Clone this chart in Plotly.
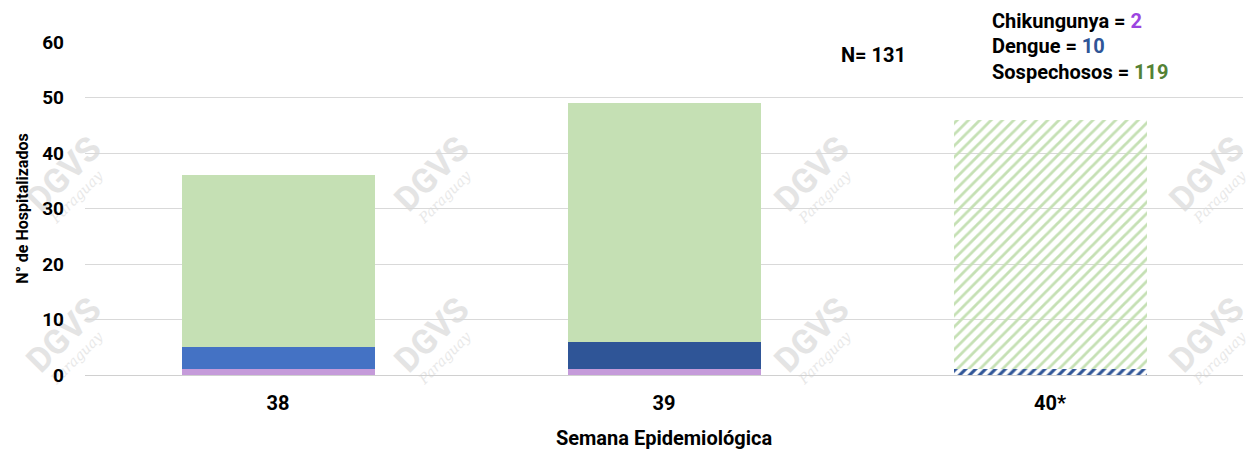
import plotly.graph_objects as go

semanas = ["38", "39", "40*"]
chikungunya = [1, 1, 0]
dengue = [4, 5, 1]
sospechosos = [31, 43, 45]
total_chik = 2
total_dengue = 10
total_sosp = 119
n_total = 131

FONT = "Roboto"
# page body adds an 8px offset; compensate in margins
L, T, PW, PH = 77, 34, 1158, 333
W, H = 1256, 462

fig = go.Figure()
fig.add_trace(go.Bar(
    x=semanas, y=chikungunya, name="Chikungunya",
    marker=dict(color="#C59BDA", line=dict(width=0)),
))
fig.add_trace(go.Bar(
    x=semanas, y=dengue, name="Dengue",
    marker=dict(
        color=["#4472C4", "#2F5597", "#2F5597"], line=dict(width=0),
        pattern=dict(shape=["", "", "/"], bgcolor="#FFFFFF",
                     size=7, solidity=0.45, fillmode="replace"),
    ),
))
fig.add_trace(go.Bar(
    x=semanas, y=sospechosos, name="Sospechosos",
    marker=dict(
        color=["#C5E0B4", "#C5E0B4", "#C5E0B4"], line=dict(width=0),
        pattern=dict(shape=["", "", "/"], bgcolor="#FFFFFF",
                     size=8, solidity=0.35, fillmode="replace"),
    ),
))

fig.update_layout(
    barmode="stack", bargap=0.5,
    width=W, height=H,
    margin=dict(l=L, r=W - L - PW, t=T, b=H - T - PH),
    plot_bgcolor="white", paper_bgcolor="white",
    showlegend=False,
    font=dict(family=FONT, size=20, color="#000000"),
    xaxis=dict(
        title=dict(text="<b>Semana Epidemiológica</b>", font=dict(size=20), standoff=16),
        tickfont=dict(size=20), showline=True, linecolor="#D0D0D0", linewidth=1,
        ticks="", showgrid=False, ticklabelstandoff=10,
        tickvals=semanas, ticktext=["<b>" + s + "</b>" for s in semanas],
    ),
    yaxis=dict(
        title=dict(text="<b>N° de Hospitalizados</b>", font=dict(size=16), standoff=9),
        range=[0, 60], showgrid=True, gridcolor="#D9D9D9", gridwidth=1,
        zeroline=False, ticks="", ticklabelstandoff=20, tickfont=dict(size=19),
        tickvals=[0, 10, 20, 30, 40, 50, 60],
        ticktext=["<b>%d</b>" % v for v in [0, 10, 20, 30, 40, 50, 60]],
    ),
)


def px(xp, yp):
    # convert target-image pixel coordinates to paper coordinates
    return (xp - 8 - L) / PW, (T + PH - (yp - 8)) / PH


# faint background watermark (drawn below bars)
wm_cols = [62, 430, 810, 1205]
wm_rows = [172, 333]
for wy in wm_rows:
    for wx in wm_cols:
        cx, cy = px(wx, wy)
        fig.add_shape(
            type="rect", xref="paper", yref="paper", layer="below",
            x0=cx - 0.001, x1=cx + 0.001, y0=cy - 0.001, y1=cy + 0.001,
            line=dict(width=0), fillcolor="rgba(0,0,0,0)",
            label=dict(text="<b>DGVS</b>", textangle=-45, textposition="middle center",
                       font=dict(family="Roboto", size=34, color="#E4E4E4")),
        )
        sx, sy = px(wx + 14, wy + 24)
        fig.add_shape(
            type="rect", xref="paper", yref="paper", layer="below",
            x0=sx - 0.001, x1=sx + 0.001, y0=sy - 0.001, y1=sy + 0.001,
            line=dict(width=0), fillcolor="rgba(0,0,0,0)",
            label=dict(text="<i>Paraguay</i>", textangle=-45, textposition="middle center",
                       font=dict(family="DejaVu Serif", size=14, color="#E8E8E8")),
        )

nx, ny = px(873, 55)
fig.add_annotation(
    xref="paper", yref="paper", x=nx, y=ny,
    text="<b>N= %d</b>" % n_total, showarrow=False, font=dict(size=20),
    xanchor="center", yanchor="middle",
)
legend_lines = [
    ("Chikungunya", total_chik, "#9B45E0", 21),
    ("Dengue", total_dengue, "#2F5597", 46),
    ("Sospechosos", total_sosp, "#548235", 72),
]
for label, val, col, ypx in legend_lines:
    lx, ly = px(990, ypx)
    fig.add_annotation(
        xref="paper", yref="paper", x=lx, y=ly,
        text="<b>%s = <span style='color:%s'>%d</span></b>" % (label, col, val),
        showarrow=False, font=dict(size=20), xanchor="left", yanchor="middle",
    )

fig.write_html("out.html")
